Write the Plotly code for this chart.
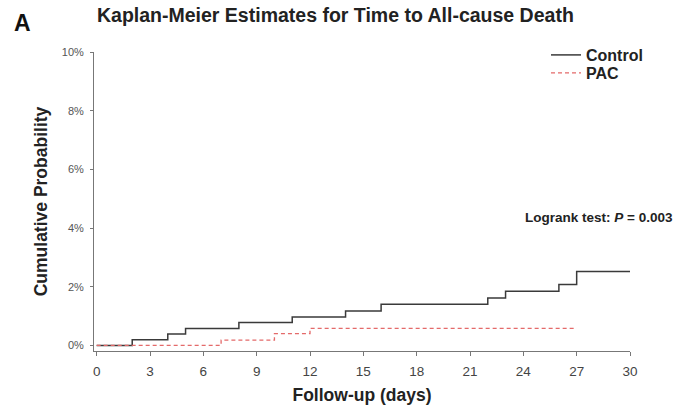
import plotly.graph_objects as go

# ---- data ----
control_days = [0, 2, 4, 5, 8, 11, 14, 16, 22, 23, 26, 27, 30]
control_pct = [0, 0.19, 0.39, 0.58, 0.78, 0.97, 1.17, 1.40, 1.62, 1.85, 2.08, 2.52, 2.52]
pac_days = [0, 7, 10, 12, 27]
pac_pct = [0, 0.18, 0.40, 0.58, 0.58]
x_ticks = [0, 3, 6, 9, 12, 15, 18, 21, 24, 27, 30]
y_ticks = [0, 2, 4, 6, 8, 10]
y_tick_labels = ["0%", "2%", "4%", "6%", "8%", "10%"]

FONT = "Liberation Sans, Arial, sans-serif"
W, H = 676, 407
L, R, T, B = 94, 46, 52, 56
pw = W - L - R
ph = H - T - B

fig = go.Figure()
fig.add_trace(go.Scatter(
    x=control_days, y=control_pct, mode="lines", name="<b>Control</b>",
    line=dict(color="#3a3a3a", width=1.5, shape="hv"), legend="legend",
))
fig.add_trace(go.Scatter(
    x=pac_days, y=pac_pct, mode="lines", name="<b>PAC</b>",
    line=dict(color="#e46a6a", width=1.3, shape="hv", dash="4px,3px"), legend="legend2",
))

leg_common = dict(
    xanchor="left", yanchor="middle",
    font=dict(size=16, color="#222", family=FONT),
    bgcolor="rgba(0,0,0,0)", borderwidth=0,
)

fig.update_layout(
    width=W, height=H,
    margin=dict(l=L, r=R, t=T, b=B, autoexpand=False),
    paper_bgcolor="white", plot_bgcolor="white",
    font=dict(family=FONT, color="#222"),
    title=dict(
        text="<b>Kaplan-Meier Estimates for Time to All-cause Death</b>",
        x=97 / W, xanchor="left", y=1 - 15 / H, yanchor="middle",
        font=dict(size=19.5, color="#222", family=FONT),
    ),
    showlegend=True,
    legend=dict(x=(546 - L) / pw, y=(H - B - 55) / ph, **leg_common),
    legend2=dict(x=(546 - L) / pw, y=(H - B - 73) / ph, **leg_common),
    xaxis=dict(
        range=[-0.15, 30], tickvals=x_ticks, ticks="outside", ticklen=4,
        tickcolor="#777", showline=True, linecolor="#777", linewidth=1,
        showgrid=False, zeroline=False, automargin=False,
        ticklabelstandoff=4,
        tickfont=dict(size=13.5, color="#444"),
        title=dict(text="<b>Follow-up (days)</b>", font=dict(size=17.5, color="#222"), standoff=10),
    ),
    yaxis=dict(
        range=[-0.19, 10], tickvals=y_ticks, ticktext=y_tick_labels,
        ticks="outside", ticklen=3, tickcolor="#777",
        showline=True, linecolor="#777", linewidth=1,
        showgrid=False, zeroline=False, automargin=False,
        ticklabelstandoff=4,
        tickfont=dict(size=11, color="#555"),
        title=dict(text="<b>Cumulative Probability</b>", font=dict(size=17.5, color="#222"), standoff=9),
    ),
    annotations=[
        dict(text="<b>A</b>", xref="paper", yref="paper", x=(12 - L) / pw, y=1 + (T - 23) / ph,
             xanchor="left", yanchor="middle", showarrow=False,
             font=dict(size=23, color="#111", family=FONT)),
        dict(text="<b>Logrank test: <i>P</i> = 0.003</b>", xref="paper", yref="paper",
             x=(675 - L) / pw, y=(H - B - 217) / ph, xanchor="right", yanchor="middle",
             showarrow=False, font=dict(size=13.5, color="#222", family=FONT)),
    ],
)

fig.write_html(
    "out.html",
    config={"displayModeBar": False},
    post_script="document.body.style.margin='0';document.body.style.padding='0';",
)
